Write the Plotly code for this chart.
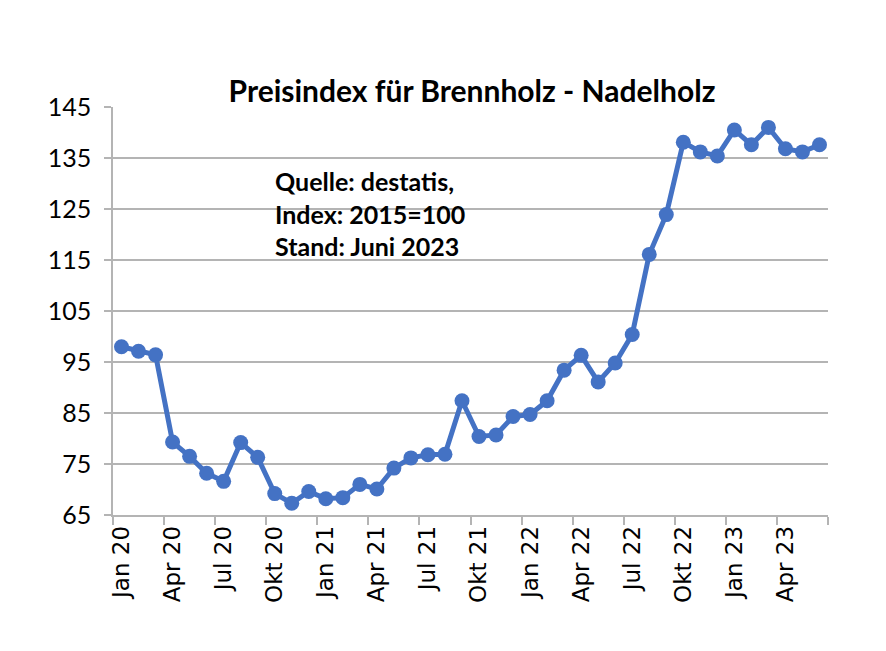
import plotly.graph_objects as go

months = [
    "Jan 20", "Feb 20", "Mär 20", "Apr 20", "Mai 20", "Jun 20", "Jul 20", "Aug 20", "Sep 20", "Okt 20", "Nov 20", "Dez 20",
    "Jan 21", "Feb 21", "Mär 21", "Apr 21", "Mai 21", "Jun 21", "Jul 21", "Aug 21", "Sep 21", "Okt 21", "Nov 21", "Dez 21",
    "Jan 22", "Feb 22", "Mär 22", "Apr 22", "Mai 22", "Jun 22", "Jul 22", "Aug 22", "Sep 22", "Okt 22", "Nov 22", "Dez 22",
    "Jan 23", "Feb 23", "Mär 23", "Apr 23", "Mai 23", "Jun 23",
]
index_values = [
    98.0, 97.1, 96.4, 79.3, 76.5, 73.2, 71.6, 79.2, 76.3, 69.2, 67.3, 69.6,
    68.2, 68.4, 71.0, 70.1, 74.2, 76.2, 76.8, 76.9, 87.4, 80.4, 80.7, 84.3,
    84.7, 87.4, 93.4, 96.3, 91.1, 94.8, 100.4, 116.1, 123.9, 138.1, 136.2, 135.4,
    140.5, 137.6, 141.0, 136.8, 136.2, 137.6,
]
tick_labels = ["Jan 20", "Apr 20", "Jul 20", "Okt 20", "Jan 21", "Apr 21", "Jul 21", "Okt 21",
               "Jan 22", "Apr 22", "Jul 22", "Okt 22", "Jan 23", "Apr 23"]
y_ticks = [65, 75, 85, 95, 105, 115, 125, 135, 145]

x_pos = list(range(len(months)))
tick_pos = [months.index(t) for t in tick_labels]
boundaries = [p - 0.5 for p in tick_pos] + [len(months) - 0.5]

blue = "#4472C4"
grid = "#B4B4B4"

fig = go.Figure()
fig.add_trace(go.Scatter(
    x=x_pos, y=index_values, mode="lines+markers",
    line=dict(color=blue, width=5),
    marker=dict(color=blue, size=15),
    hoverinfo="skip", showlegend=False,
))

fig.update_layout(
    width=886, height=651,
    margin=dict(l=105, r=66, t=99, b=144),
    paper_bgcolor="white", plot_bgcolor="white",
    title=dict(text="<b>Preisindex für Brennholz - Nadelholz</b>",
               x=(228 + 716) / 2 / 886 - 8 / 886, xanchor="center", y=1 - 83 / 651, yanchor="middle",
               font=dict(family="Lato", size=30, color="black")),
    annotations=[dict(
        text="<b>Quelle: destatis,<br>Index: 2015=100<br>Stand: Juni 2023</b>",
        xref="paper", yref="paper", x=(273 - 113) / 715, y=(515 - 164) / 408,
        xanchor="left", yanchor="top", align="left", showarrow=False,
        font=dict(family="Lato", size=25, color="black"),
    )],
)
fig.update_xaxes(
    range=[-0.5, len(months) - 0.5],
    tickmode="array", tickvals=tick_pos, ticktext=tick_labels,
    tickangle=-90, ticks="", showgrid=False, zeroline=False,
    tickfont=dict(family="DejaVu Sans", size=23, color="black"),
    showline=True, linecolor=grid, linewidth=1.5,
    minor=dict(tickmode="array", tickvals=boundaries, ticks="outside", ticklen=8,
               tickcolor=grid, tickwidth=1.5, showgrid=False),
)
fig.update_yaxes(
    range=[65, 145], tickmode="array", tickvals=y_ticks,
    ticks="outside", ticklen=7, tickcolor=grid, tickwidth=1.5,
    showgrid=True, gridcolor=grid, gridwidth=1.5, zeroline=False,
    showline=True, linecolor=grid, linewidth=1.5,
    tickfont=dict(family="Lato", size=25, color="black"),
    ticklabelstandoff=8,
)

fig.write_html("out.html")
